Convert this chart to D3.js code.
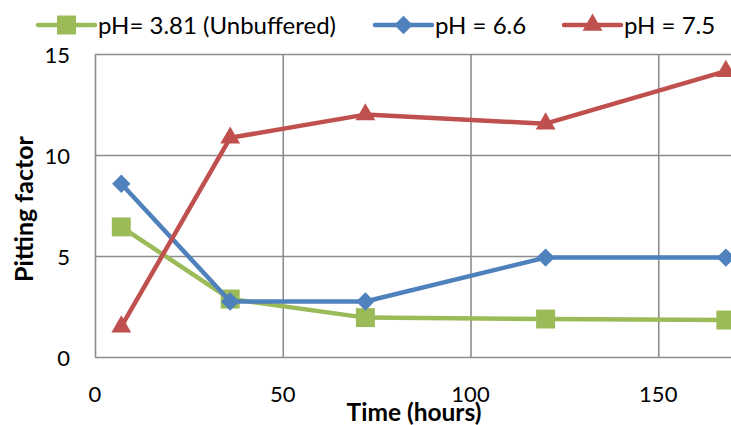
<!DOCTYPE html>
<html>
<head>
<meta charset="utf-8">
<script src="https://cdn.jsdelivr.net/npm/d3@7"></script>
<style>
  body { margin: 0; background: #fff; }
  text { font-family: Lato, "Open Sans", sans-serif; fill: #000; }
</style>
</head>
<body>
<div id="chart"></div>
<script>
// data
const hours = [7, 36, 72, 120, 168];
const unbuffered = [6.44, 2.87, 1.95, 1.88, 1.83];
const ph66 = [8.58, 2.75, 2.75, 4.92, 4.92];
const ph75 = [1.5, 10.85, 12.0, 11.55, 14.15];
const seriesNames = ['pH= 3.81 (Unbuffered)', 'pH = 6.6', 'pH = 7.5'];
const xTicks = [0, 50, 100, 150];
const yTicks = [0, 5, 10, 15];

const width = 731, height = 425;
const x = d3.scaleLinear().domain([0, 200]).range([95, 846]);
const y = d3.scaleLinear().domain([0, 15]).range([357, 54]);

// diamond drawn as a square turned 45 degrees
const diamond = {
  draw(ctx, size) {
    const r = Math.sqrt(size / 2);
    ctx.moveTo(0, -r);
    ctx.lineTo(r, 0);
    ctx.lineTo(0, r);
    ctx.lineTo(-r, 0);
    ctx.closePath();
  }
};

const series = [
  { name: seriesNames[0], values: unbuffered, color: '#9BBB59', symbol: d3.symbolSquare, size: 360 },
  { name: seriesNames[1], values: ph66, color: '#4F81BD', symbol: diamond, size: 170 },
  { name: seriesNames[2], values: ph75, color: '#C0504D', symbol: d3.symbolTriangle, size: 170 }
];

const svg = d3.select('#chart').append('svg')
  .attr('width', width)
  .attr('height', height);

// grid
svg.append('g')
  .attr('transform', 'translate(0,357)')
  .call(d3.axisBottom(x).tickValues(xTicks).tickSize(-303).tickFormat(''))
  .call(g => g.select('.domain').remove())
  .call(g => g.selectAll('line').attr('stroke', '#8c8c8c').attr('stroke-width', 1.6));

svg.append('g')
  .attr('transform', 'translate(95,0)')
  .call(d3.axisLeft(y).tickValues(yTicks).tickSize(-751).tickFormat(''))
  .call(g => g.select('.domain').remove())
  .call(g => g.selectAll('line').attr('stroke', '#8c8c8c').attr('stroke-width', 1.6));

// tick labels
svg.append('g')
  .selectAll('text')
  .data(xTicks)
  .join('text')
  .attr('x', d => x(d))
  .attr('y', 402)
  .attr('text-anchor', 'middle')
  .attr('font-size', 22)
  .text(d => d);

svg.append('g')
  .selectAll('text')
  .data(yTicks)
  .join('text')
  .attr('x', 70)
  .attr('y', d => y(d) + 8.5)
  .attr('text-anchor', 'end')
  .attr('font-size', 22)
  .text(d => d);

// axis titles
svg.append('text')
  .attr('x', 414)
  .attr('y', 421)
  .attr('text-anchor', 'middle')
  .attr('font-size', 24.5)
  .attr('font-weight', 'bold')
  .text('Time (hours)');

svg.append('text')
  .attr('transform', 'translate(33,209) rotate(-90)')
  .attr('text-anchor', 'middle')
  .attr('font-size', 25)
  .attr('font-weight', 'bold')
  .text('Pitting factor');

// lines and markers
const line = d3.line()
  .x((d, i) => x(hours[i]))
  .y(d => y(d));

series.forEach(s => {
  svg.append('path')
    .attr('d', line(s.values))
    .attr('fill', 'none')
    .attr('stroke', s.color)
    .attr('stroke-width', 4.5)
    .attr('stroke-linejoin', 'round');

  svg.append('g')
    .selectAll('path')
    .data(s.values)
    .join('path')
    .attr('transform', (d, i) => `translate(${x(hours[i])},${y(d)})`)
    .attr('d', d3.symbol().type(s.symbol).size(s.size))
    .attr('fill', s.color);
});

// legend
const legendX = [38, 375, 564];
const legend = svg.append('g');
series.forEach((s, i) => {
  const g = legend.append('g').attr('transform', `translate(${legendX[i]},25)`);
  g.append('line')
    .attr('x1', 0).attr('x2', 57)
    .attr('stroke', s.color)
    .attr('stroke-width', 4.5)
    .attr('stroke-linecap', 'round');
  g.append('path')
    .attr('transform', 'translate(28.5,0)')
    .attr('d', d3.symbol().type(s.symbol).size(s.size))
    .attr('fill', s.color);
  g.append('text')
    .attr('x', 60)
    .attr('y', 8.5)
    .attr('font-size', 24)
    .text(s.name);
});
</script>
</body>
</html>
